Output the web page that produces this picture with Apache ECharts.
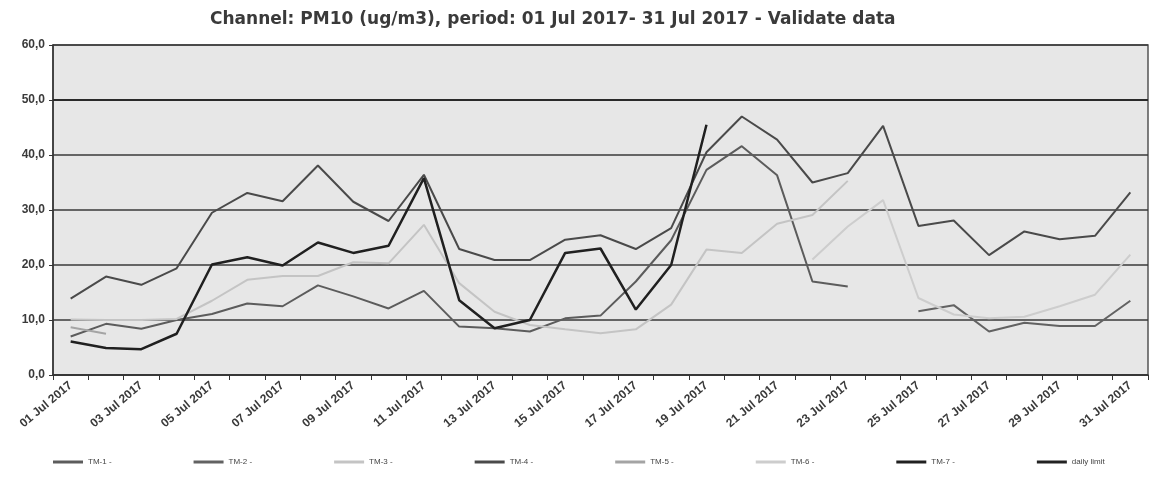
<!DOCTYPE html>
<html>
<head>
<meta charset="utf-8">
<script src="https://cdn.jsdelivr.net/npm/echarts@6/dist/echarts.min.js"></script>
<style>
html,body{margin:0;padding:0;background:#fff;}
#chart{width:1151px;height:477px;}
</style>
</head>
<body>
<div id="chart"></div>
<script>
const categories = ["01 Jul 2017","02 Jul 2017","03 Jul 2017","04 Jul 2017","05 Jul 2017","06 Jul 2017","07 Jul 2017","08 Jul 2017","09 Jul 2017","10 Jul 2017","11 Jul 2017","12 Jul 2017","13 Jul 2017","14 Jul 2017","15 Jul 2017","16 Jul 2017","17 Jul 2017","18 Jul 2017","19 Jul 2017","20 Jul 2017","21 Jul 2017","22 Jul 2017","23 Jul 2017","24 Jul 2017","25 Jul 2017","26 Jul 2017","27 Jul 2017","28 Jul 2017","29 Jul 2017","30 Jul 2017","31 Jul 2017"];

const tm1 = [7.0,9.3,8.4,10.0,11.1,13.0,12.5,16.3,14.3,12.1,15.3,8.8,8.5,7.9,10.3,10.8,17.0,24.5,37.3,41.6,36.3,17.0,16.1,null,null,null,null,null,null,null,null];
const tm2 = [null,null,null,null,null,null,null,null,null,null,null,null,null,null,null,null,null,null,null,null,null,null,null,null,11.6,12.7,7.9,9.5,8.9,8.9,13.5];
const tm3 = [10.1,10.0,10.0,10.2,13.5,17.3,18.0,18.0,20.5,20.3,27.3,16.7,11.5,9.1,8.3,7.6,8.3,12.8,22.8,22.2,27.5,29.1,35.3,null,null,null,null,null,null,null,null];
const tm4 = [13.9,17.9,16.4,19.4,29.5,33.1,31.6,38.1,31.5,28.0,36.4,22.9,20.9,20.9,24.6,25.4,22.9,26.7,40.5,47.0,42.8,35.0,36.7,45.3,27.1,28.1,21.8,26.1,24.7,25.3,33.2];
const tm5 = [8.7,7.5,null,null,null,null,null,null,null,null,null,null,null,null,null,null,null,null,null,null,null,null,null,null,null,null,null,null,null,null,null];
const tm6 = [null,null,null,null,null,null,null,null,null,null,null,null,null,null,null,null,null,null,null,null,null,21.0,27.0,31.8,14.0,11.0,10.3,10.6,12.5,14.6,21.9];
const tm7 = [6.1,4.9,4.7,7.5,20.1,21.4,19.9,24.1,22.2,23.5,35.8,13.6,8.5,10.0,22.2,23.0,11.9,20.0,45.5,null,null,null,null,null,null,null,null,null,null,null,null];
const dailyLimit = 50;
const yTicks = {min: 0, max: 60, interval: 10};

const FONT = '"Liberation Sans", Arial, sans-serif';
const TITLE_FONT = '"DejaVu Sans", Verdana, sans-serif';

function line(name, data, color, width) {
  return {
    name: name, type: 'line', data: data, symbol: 'none', connectNulls: false,
    lineStyle: {color: color, width: width}, itemStyle: {color: color},
    animation: false, z: 3
  };
}

const series = [
  line('TM-1 -', tm1, '#5c5c5c', 2),
  line('TM-2 -', tm2, '#626262', 2),
  line('TM-3 -', tm3, '#c4c4c4', 2),
  line('TM-4 -', tm4, '#4a4a4a', 2),
  line('TM-5 -', tm5, '#a4a4a4', 2),
  line('TM-6 -', tm6, '#cdcdcd', 2),
  line('TM-7 -', tm7, '#202020', 2.5),
  {
    name: 'daily limit', type: 'line', data: [], symbol: 'none',
    lineStyle: {color: '#222', width: 2}, itemStyle: {color: '#222'},
    animation: false,
    markLine: {
      silent: true, symbol: 'none', label: {show: false}, animation: false,
      lineStyle: {color: '#2a2a2a', width: 2, type: 'solid'},
      data: [{yAxis: dailyLimit}]
    }
  }
];

const chart = echarts.init(document.getElementById('chart'), null, {renderer: 'canvas'});
chart.setOption({
  backgroundColor: '#ffffff',
  animation: false,
  title: {
    text: 'Channel: PM10 (ug/m3), period: 01 Jul 2017- 31 Jul 2017 - Validate data',
    left: 205, top: 6,
    textStyle: {fontFamily: TITLE_FONT, fontSize: 17, fontWeight: 'bold', color: '#3a3a3a'}
  },
  legend: {
    bottom: 6, left: 48, itemWidth: 30, itemHeight: 3, itemGap: 82,
    icon: 'rect',
    textStyle: {fontFamily: FONT, fontSize: 8, color: '#444'},
    data: series.map(s => s.name)
  },
  grid: {
    left: 53, right: 3, top: 45, bottom: 102,
    show: true, backgroundColor: '#e7e7e7', borderColor: '#555', borderWidth: 1.5
  },
  xAxis: {
    type: 'category', data: categories, boundaryGap: true,
    axisLine: {lineStyle: {color: '#333', width: 1.5}},
    axisTick: {show: true, interval: 0, length: 5, lineStyle: {color: '#333'}},
    axisLabel: {interval: 1, rotate: 40, fontFamily: FONT, fontSize: 12, fontWeight: 'bold', color: '#3a3a3a', margin: 9}
  },
  yAxis: {
    type: 'value', min: yTicks.min, max: yTicks.max, interval: yTicks.interval,
    axisLine: {show: true, lineStyle: {color: '#333', width: 1.5}},
    axisTick: {show: true, length: 4, lineStyle: {color: '#333'}},
    axisLabel: {fontFamily: FONT, fontSize: 12, fontWeight: 'bold', color: '#3a3a3a', margin: 8,
      formatter: v => v.toFixed(1).replace('.', ',')},
    splitLine: {show: true, lineStyle: {color: '#3a3a3a', width: 1.5}}
  },
  series: series
});
</script>
</body>
</html>
